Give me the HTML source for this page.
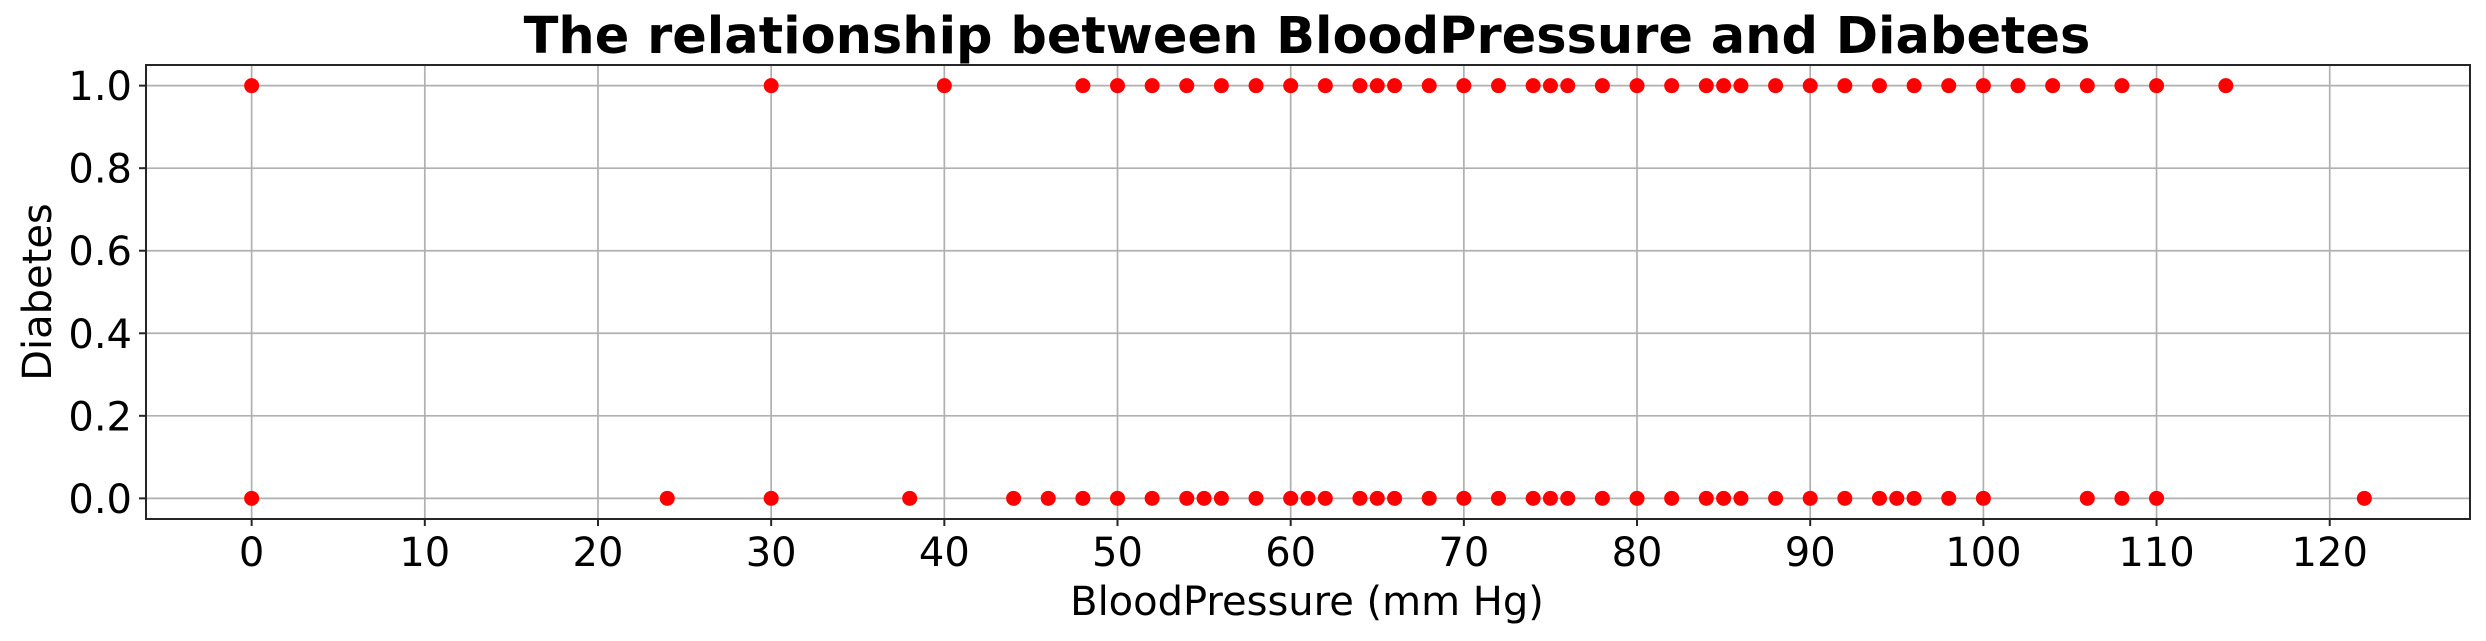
<!DOCTYPE html>
<html><head><meta charset="utf-8"><style>
html,body{margin:0;padding:0;background:#fff;}
svg{display:block;font-family:"DejaVu Sans","Liberation Sans",sans-serif;}
</style></head><body>
<svg id="chart" width="2486" height="641" viewBox="0 0 2486 641">
<rect width="2486" height="641" fill="#fff"/>
<text x="1307" y="53" font-size="51" font-weight="bold" text-anchor="middle">The relationship between BloodPressure and Diabetes</text>
<g id="grid"></g>
<g id="points"></g>
<rect x="146" y="65" width="2324" height="454" fill="none" stroke="#262626" stroke-width="2"/>
<g id="xticks"></g>
<g id="yticks"></g>
<text x="1307" y="615" font-size="40" text-anchor="middle">BloodPressure (mm Hg)</text>
<text x="0" y="0" font-size="40" text-anchor="middle" transform="translate(51,292) rotate(-90)">Diabetes</text>
</svg>
<script>
const xTickValues = [0,10,20,30,40,50,60,70,80,90,100,110,120];
const yTickValues = [0,0.2,0.4,0.6,0.8,1.0];
const yTickLabels = ["0.0","0.2","0.4","0.6","0.8","1.0"];
const bpPositive = [0,30,40,48,50,52,54,56,58,60,62,64,65,66,68,70,72,74,75,76,78,80,82,84,85,86,88,90,92,94,96,98,100,102,104,106,108,110,114];
const bpNegative = [0,24,30,38,44,46,48,50,52,54,55,56,58,60,61,62,64,65,66,68,70,72,74,75,76,78,80,82,84,85,86,88,90,92,94,95,96,98,100,106,108,110,122];

const NS = "http://www.w3.org/2000/svg";
const L = 146, R = 2470, T = 65, B = 519;
const xMin = -6.1, xMax = 128.1, yMin = -0.05, yMax = 1.05;
function xs(v){ return L + (v - xMin) / (xMax - xMin) * (R - L); }
function ys(v){ return B - (v - yMin) / (yMax - yMin) * (B - T); }
function mk(tag, attrs){ const e = document.createElementNS(NS, tag); for (const k in attrs) e.setAttribute(k, attrs[k]); return e; }

const grid = document.getElementById('grid');
const xt = document.getElementById('xticks');
const yt = document.getElementById('yticks');
const pts = document.getElementById('points');

xTickValues.forEach(v => {
  const x = xs(v);
  const g = mk('line', {x1:x, x2:x, y1:T, y2:B, stroke:'#b0b0b0', 'stroke-width':1.7});
  
  
  grid.appendChild(g);
  const t = mk('line', {x1:x, x2:x, y1:B, y2:B+7, stroke:'#262626', 'stroke-width':2});
  
  
  xt.appendChild(t);
  const lb = mk('text', {x:x, y:566, 'font-size':40, 'text-anchor':'middle'});
  lb.textContent = String(v);
  
  
  xt.appendChild(lb);
});
yTickValues.forEach((v, i) => {
  const y = ys(v);
  const g = mk('line', {x1:L, x2:R, y1:y, y2:y, stroke:'#b0b0b0', 'stroke-width':1.7});
  
  
  grid.appendChild(g);
  const t = mk('line', {x1:L-7, x2:L, y1:y, y2:y, stroke:'#262626', 'stroke-width':2});
  
  
  yt.appendChild(t);
  const lb = mk('text', {x:L-14, y:y+14.5, 'font-size':40, 'text-anchor':'end'});
  lb.textContent = yTickLabels[i];
  
  
  yt.appendChild(lb);
});
function drawPoints(arr, yv){
  arr.forEach(v => {
    const c = mk('circle', {cx:xs(v), cy:ys(yv), r:7.5, fill:'#ff0000'});
    
    
    pts.appendChild(c);
  });
}
drawPoints(bpPositive, 1);
drawPoints(bpNegative, 0);
</script>
</body></html>
